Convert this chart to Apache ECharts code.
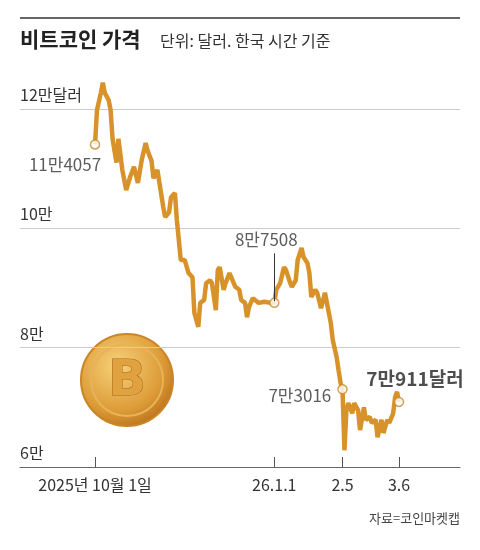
<!DOCTYPE html>
<html><head><meta charset="utf-8">
<script src="https://cdn.jsdelivr.net/npm/echarts@6/dist/echarts.min.js"></script>
<style>html,body{margin:0;padding:0;background:#fff}#c{width:480px;height:550px}</style>
</head><body><div id="c"></div>
<script>
// day offsets from 2025-10-01
const days = [0,1,3,4,5,7,8,9,11,12,13,14,16,18,20,22,24,26,27,29,30,32,33,35,36,38,39,41,42,44,46,48,50,51,53,54,56,57,59,60,62,63,64,66,67,69,70,72,74,75,77,78,79,81,82,84,85,87,88,90,92,93,95,97,98,100,101,103,104,106,107,109,110,111,113,114,116,118,119,121,122,124,125,126,127,128,129,130,132,133,135,136,138,139,141,142,144,145,147,148,150,151,153,154,155,156];
const prices = [114057,119800,122700,124400,122700,121500,119800,115000,111000,115000,115000,109800,106400,108600,110300,107600,111500,114300,113000,111300,108400,109800,110000,103600,101900,102700,105200,105900,101400,94700,94700,92500,91800,85800,83500,87500,88000,90800,91300,90800,86300,93000,93500,89700,90800,92500,92500,90200,89700,88000,87500,85100,86800,88300,88500,87500,87200,87700,88000,87500,87508,89700,90800,93500,93000,91000,90200,91300,94700,96700,95200,94200,92500,88500,89700,89200,86600,89200,89200,84100,81300,78400,76200,74100,73016,62800,69500,70700,69000,70700,69500,66200,70000,67900,68400,67400,67900,65000,67900,65700,67900,67400,69000,71700,72600,70911];
const xTickDays = [0,92,127,156];
const xTickLabels = ['2025년 10월 1일','26.1.1','2.5','3.6'];
const yTickLabels = {60000:'6만',80000:'8만',100000:'10만',120000:'12만달러'};
const markDays = [0,92,127,156];
const markLabels = ['11만4057','8만7508','7만3016','7만911달러'];

const FONT = '"Liberation Sans Narrow", "Noto Sans CJK KR", sans-serif';
const line = days.map((d,i)=>[d,prices[i]]);
const marks = markDays.map((d,i)=>{
  const v = prices[days.indexOf(d)];
  const cfgs = [
    {position:'bottom',distance:6,offset:[-30,0]},
    {position:'top',distance:50,offset:[-8,0]},
    {position:'left',distance:6,offset:[0,6]},
    {position:'top',distance:8,offset:[16,0],fontWeight:'bold',fontSize:19,color:'#222'}
  ];
  return {value:[d,v],label:Object.assign({show:true,formatter:markLabels[i],fontSize:17,color:'#333',fontFamily:FONT},cfgs[i])};
});

const chart = echarts.init(document.getElementById('c'));
chart.setOption({
  animation:false,
  grid:{left:20,right:20,top:70.2,bottom:83},
  xAxis:{type:'value',min:-38.5,max:187.3,
    axisLine:{show:true,lineStyle:{color:'#666',width:1}},
    splitLine:{show:false},
    axisTick:{show:true,inside:true,length:10,lineStyle:{color:'#555'},customValues:xTickDays},
    axisLabel:{show:true,customValues:xTickDays,margin:10,fontSize:16,color:'#333',fontFamily:FONT,
      formatter:v=>xTickLabels[xTickDays.indexOf(v)]}},
  yAxis:{type:'value',min:60000,max:126500,interval:20000,
    axisLine:{show:false},axisTick:{show:false},
    splitLine:{show:true,showMaxLine:false,showMinLine:false,lineStyle:{color:'#ccc',width:1}},
    axisLabel:{show:true,inside:true,showMaxLabel:false,verticalAlign:'bottom',padding:[0,0,6,0],margin:0,fontSize:16,color:'#333',fontFamily:FONT,
      formatter:v=>yTickLabels[v]||''}},
  graphic:[
    {type:'line',shape:{x1:20,y1:18,x2:460,y2:18},style:{stroke:'#333',lineWidth:1.5}},
    {type:'text',left:20,top:29,style:{text:'비트코인 가격',font:'bold 21px "Noto Sans CJK KR"',fill:'#222'}},
    {type:'text',left:160,top:33,style:{text:'단위: 달러. 한국 시간 기준',font:'16px "Noto Sans CJK KR"',fill:'#333'}},
    {type:'text',right:20,top:512,style:{text:'자료=코인마켓캡',font:'13px "Noto Sans CJK KR"',fill:'#444'}},
    {type:'circle',shape:{cx:127,cy:380,r:46},style:{fill:{type:'radial',x:0.4,y:0.35,r:0.7,colorStops:[{offset:0,color:'#f7d27a'},{offset:0.7,color:'#dc9a36'},{offset:1,color:'#b86f1a'}]},stroke:'#c98526',lineWidth:2}},
    {type:'circle',shape:{cx:127,cy:380,r:36},style:{fill:'none',stroke:'#e7b358',lineWidth:2}},
    {type:'text',x:127,y:382,style:{text:'B',font:'bold 50px "DejaVu Sans"',fill:'#e0a140',stroke:'#a9661a',lineWidth:1,align:'center',verticalAlign:'middle'}}
  ],
  series:[
    {type:'line',data:line,symbol:'none',lineStyle:{color:'#D8922A',width:4.5},z:2,
     markLine:{silent:true,symbol:'none',label:{show:false},lineStyle:{color:'#333',width:1,type:'solid'},
       data:[[{coord:[92,87800]},{coord:[92,95800]}]]}},
    {type:'scatter',data:marks,symbol:'circle',symbolSize:9,itemStyle:{color:'#fff',borderColor:'#C48A2E',borderWidth:1.5},z:3}
  ]
});
</script></body></html>
